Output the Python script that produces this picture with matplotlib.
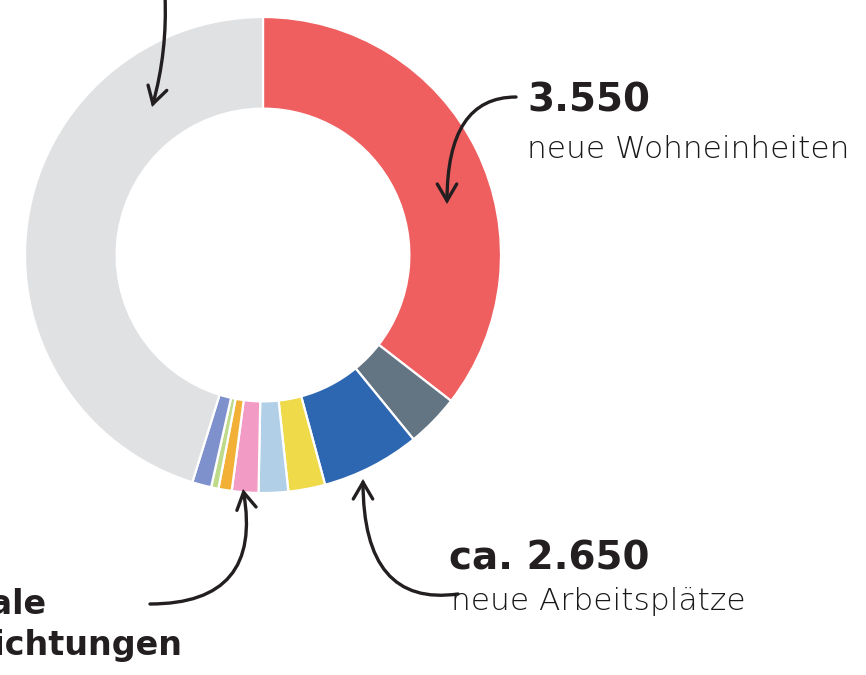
import matplotlib
matplotlib.use("Agg")
import matplotlib.pyplot as plt
from matplotlib.patches import FancyArrowPatch

# Data (share of area, %)
categories = ["Wohnen", "Mischgebiet", "Gewerbe", "Handel", "Büro", "Soziale Einrichtungen",
              "Kultur", "Sport", "Sonstiges", "Grün- und Freiflächen"]
values = [35.5, 3.6, 6.7, 2.5, 2.0, 1.8, 0.9, 0.5, 1.3, 45.2]
colors = ["#EF5F60", "#637583", "#2E67B1", "#EFDA4A", "#B1D0E8", "#F29CC5",
          "#F2B136", "#BEDB8A", "#7F91CC", "#E0E1E3"]

W, H = 866, 675
fig = plt.figure(figsize=(W / 100, H / 100), dpi=100)

# donut axes: centre (263,255) px, outer radius 238 px
cx, cy, R = 263, 255, 238
ax = fig.add_axes([(cx - R) / W, (H - cy - R) / H, 2 * R / W, 2 * R / H])
ax.pie(values, colors=colors, startangle=90, counterclock=False, radius=1,
       wedgeprops=dict(width=0.385, edgecolor="white", linewidth=1.6))
ax.set_xlim(-1, 1)
ax.set_ylim(-1, 1)
ax.set_aspect("equal")
ax.axis("off")

# overlay in pixel coordinates
ov = fig.add_axes([0, 0, 1, 1], zorder=5)
ov.set_xlim(0, W)
ov.set_ylim(H, 0)
ov.axis("off")
ov.patch.set_alpha(0)

ink = "#231F20"
bold = dict(family="DejaVu Sans", weight="bold", color=ink)
light = dict(family="DejaVu Sans", weight="light", color="#1A1718")

ov.text(527, 112, "3.550", fontsize=28, va="baseline", ha="left", **bold)
ov.text(527, 158, "neue Wohneinheiten", fontsize=22.5, va="baseline", ha="left", **light)
ov.text(449, 569, "ca. 2.650", fontsize=28, va="baseline", ha="left", **bold)
ov.text(451, 610, "neue Arbeitsplätze", fontsize=22.5, va="baseline", ha="left", **light)
ov.text(47, 614, "Soziale", fontsize=24, va="baseline", ha="right", **bold)
ov.text(183, 655, "Einrichtungen", fontsize=24, va="baseline", ha="right", **bold)

astyle = "->,head_length=0.6,head_width=0.35"

def arrow(a, b, cs):
    p = FancyArrowPatch(a, b, connectionstyle=cs, arrowstyle=astyle, mutation_scale=20,
                        lw=2.4, color=ink, shrinkA=0, shrinkB=0, capstyle="round",
                        joinstyle="miter")
    ov.add_patch(p)

arrow((165, -5), (152, 107), "arc3,rad=-0.08")
arrow((516, 97), (447, 204), "angle3,angleA=0,angleB=90")
arrow((458, 594), (363, 479), "angle3,angleA=8,angleB=90")
arrow((150, 604), (243, 489), "angle3,angleA=0,angleB=100")

fig.savefig("out.png", dpi=100)
